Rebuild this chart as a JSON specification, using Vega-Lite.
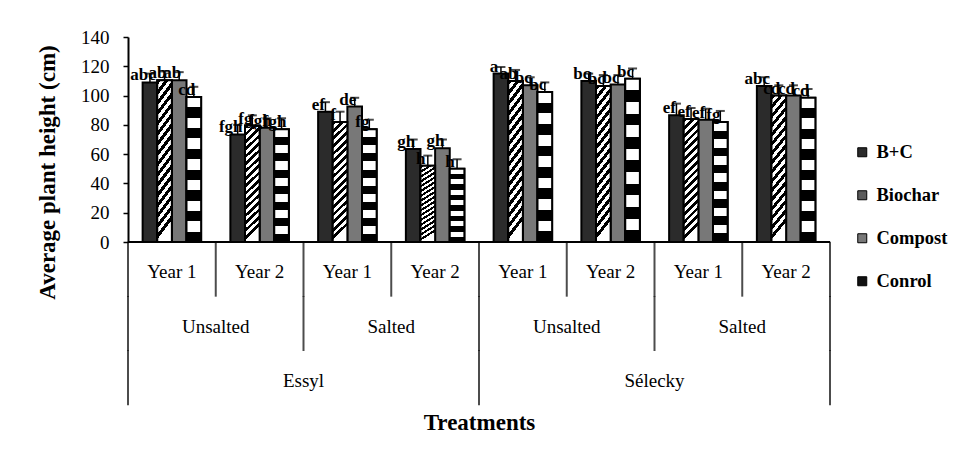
{
  "$schema": "https://vega.github.io/schema/vega-lite/v6.json",
  "width": 702,
  "height": 368,
  "autosize": {"type": "none"},
  "padding": {"left": 128, "top": 37, "right": 133, "bottom": 50},
  "background": "white",
  "config": {
    "view": {"stroke": null},
    "font": "Liberation Serif",
    "text": {"font": "Liberation Serif", "color": "black"}
  },
  "datasets": {
    "heights": [
      {"grp": "Essyl Unsalted Year 1", "treatment": "B+C", "height": 109, "upper": 115, "letter": "abc"},
      {"grp": "Essyl Unsalted Year 1", "treatment": "Biochar", "height": 110.5, "upper": 116.5, "letter": "ab"},
      {"grp": "Essyl Unsalted Year 1", "treatment": "Compost", "height": 110.5, "upper": 116, "letter": "ab"},
      {"grp": "Essyl Unsalted Year 1", "treatment": "Conrol", "height": 99, "upper": 106, "letter": "cd"},
      {"grp": "Essyl Unsalted Year 2", "treatment": "B+C", "height": 73.5, "upper": 80, "letter": "fgh"},
      {"grp": "Essyl Unsalted Year 2", "treatment": "Biochar", "height": 79.5, "upper": 86.5, "letter": "fg"},
      {"grp": "Essyl Unsalted Year 2", "treatment": "Compost", "height": 78, "upper": 84.5, "letter": "fgh"},
      {"grp": "Essyl Unsalted Year 2", "treatment": "Conrol", "height": 77, "upper": 84.5, "letter": "fgh"},
      {"grp": "Essyl Salted Year 1", "treatment": "B+C", "height": 89, "upper": 95.5, "letter": "ef"},
      {"grp": "Essyl Salted Year 1", "treatment": "Biochar", "height": 82, "upper": 89, "letter": "f"},
      {"grp": "Essyl Salted Year 1", "treatment": "Compost", "height": 92.5, "upper": 98.5, "letter": "de"},
      {"grp": "Essyl Salted Year 1", "treatment": "Conrol", "height": 77, "upper": 83.5, "letter": "fg"},
      {"grp": "Essyl Salted Year 2", "treatment": "B+C", "height": 63.5, "upper": 70, "letter": "gh"},
      {"grp": "Essyl Salted Year 2", "treatment": "Biochar", "height": 52, "upper": 59, "letter": "h"},
      {"grp": "Essyl Salted Year 2", "treatment": "Compost", "height": 64, "upper": 70, "letter": "gh"},
      {"grp": "Essyl Salted Year 2", "treatment": "Conrol", "height": 50, "upper": 56.5, "letter": "h"},
      {"grp": "Sélecky Unsalted Year 1", "treatment": "B+C", "height": 115, "upper": 119.5, "letter": "a"},
      {"grp": "Sélecky Unsalted Year 1", "treatment": "Biochar", "height": 110, "upper": 117.5, "letter": "ab"},
      {"grp": "Sélecky Unsalted Year 1", "treatment": "Compost", "height": 107, "upper": 112.5, "letter": "bc"},
      {"grp": "Sélecky Unsalted Year 1", "treatment": "Conrol", "height": 102.5, "upper": 109, "letter": "bc"},
      {"grp": "Sélecky Unsalted Year 2", "treatment": "B+C", "height": 110, "upper": 115, "letter": "bc"},
      {"grp": "Sélecky Unsalted Year 2", "treatment": "Biochar", "height": 106.5, "upper": 114, "letter": "bc"},
      {"grp": "Sélecky Unsalted Year 2", "treatment": "Compost", "height": 107.5, "upper": 114, "letter": "bc"},
      {"grp": "Sélecky Unsalted Year 2", "treatment": "Conrol", "height": 111.5, "upper": 118.5, "letter": "bc"},
      {"grp": "Sélecky Salted Year 1", "treatment": "B+C", "height": 86.5, "upper": 94.5, "letter": "ef"},
      {"grp": "Sélecky Salted Year 1", "treatment": "Biochar", "height": 84, "upper": 91.5, "letter": "ef"},
      {"grp": "Sélecky Salted Year 1", "treatment": "Compost", "height": 83.5, "upper": 91, "letter": "ef"},
      {"grp": "Sélecky Salted Year 1", "treatment": "Conrol", "height": 82, "upper": 89.5, "letter": "fg"},
      {"grp": "Sélecky Salted Year 2", "treatment": "B+C", "height": 106.5, "upper": 112.5, "letter": "abc"},
      {"grp": "Sélecky Salted Year 2", "treatment": "Biochar", "height": 100, "upper": 107, "letter": "cd"},
      {"grp": "Sélecky Salted Year 2", "treatment": "Compost", "height": 100, "upper": 107, "letter": "cd"},
      {"grp": "Sélecky Salted Year 2", "treatment": "Conrol", "height": 98.5, "upper": 104.5, "letter": "cd"}
    ],
    "axislabels": [
      {"grp": "Essyl Unsalted Year 1", "level": "Year", "label": "Year 1"},
      {"grp": "Essyl Unsalted Year 2", "level": "Year", "label": "Year 2"},
      {"grp": "Essyl Salted Year 1", "level": "Year", "label": "Year 1"},
      {"grp": "Essyl Salted Year 2", "level": "Year", "label": "Year 2"},
      {"grp": "Sélecky Unsalted Year 1", "level": "Year", "label": "Year 1"},
      {"grp": "Sélecky Unsalted Year 2", "level": "Year", "label": "Year 2"},
      {"grp": "Sélecky Salted Year 1", "level": "Year", "label": "Year 1"},
      {"grp": "Sélecky Salted Year 2", "level": "Year", "label": "Year 2"},
      {"grp": "Essyl Unsalted Year 1", "level": "Salinity", "label": "Unsalted"},
      {"grp": "Essyl Salted Year 1", "level": "Salinity", "label": "Salted"},
      {"grp": "Sélecky Unsalted Year 1", "level": "Salinity", "label": "Unsalted"},
      {"grp": "Sélecky Salted Year 1", "level": "Salinity", "label": "Salted"},
      {"grp": "Essyl Unsalted Year 2", "level": "Site", "label": "Essyl"},
      {"grp": "Sélecky Unsalted Year 2", "level": "Site", "label": "Sélecky"}
    ],
    "seps": [
      {"grp": "Essyl Unsalted Year 1", "edge": "left", "level": "Year"},
      {"grp": "Essyl Unsalted Year 1", "edge": "left", "level": "Salinity"},
      {"grp": "Essyl Unsalted Year 1", "edge": "left", "level": "Site"},
      {"grp": "Essyl Unsalted Year 2", "edge": "left", "level": "Year"},
      {"grp": "Essyl Salted Year 1", "edge": "left", "level": "Year"},
      {"grp": "Essyl Salted Year 1", "edge": "left", "level": "Salinity"},
      {"grp": "Essyl Salted Year 2", "edge": "left", "level": "Year"},
      {"grp": "Sélecky Unsalted Year 1", "edge": "left", "level": "Year"},
      {"grp": "Sélecky Unsalted Year 1", "edge": "left", "level": "Salinity"},
      {"grp": "Sélecky Unsalted Year 1", "edge": "left", "level": "Site"},
      {"grp": "Sélecky Unsalted Year 2", "edge": "left", "level": "Year"},
      {"grp": "Sélecky Salted Year 1", "edge": "left", "level": "Year"},
      {"grp": "Sélecky Salted Year 1", "edge": "left", "level": "Salinity"},
      {"grp": "Sélecky Salted Year 2", "edge": "left", "level": "Year"},
      {"grp": "Sélecky Salted Year 2", "edge": "right", "level": "Year"},
      {"grp": "Sélecky Salted Year 2", "edge": "right", "level": "Salinity"},
      {"grp": "Sélecky Salted Year 2", "edge": "right", "level": "Site"}
    ]
  },
  "layer": [
    {
      "data": {"name": "heights"},
      "layer": [
        {
          "mark": {"type": "bar", "stroke": "black", "strokeWidth": 2},
          "encoding": {
            "x": {"field": "grp", "type": "nominal",
              "scale": {"domain": ["Essyl Unsalted Year 1", "Essyl Unsalted Year 2", "Essyl Salted Year 1", "Essyl Salted Year 2", "Sélecky Unsalted Year 1", "Sélecky Unsalted Year 2", "Sélecky Salted Year 1", "Sélecky Salted Year 2"], "paddingInner": 0, "paddingOuter": 0},
              "axis": {"title": "Treatments", "domain": false, "labels": false, "ticks": false, "grid": false, "titleFont": "Liberation Serif", "titleFontSize": 23, "titleFontWeight": "bold", "titleColor": "black", "titlePadding": 6}
            },
            "xOffset": {"field": "treatment", "type": "nominal", "scale": {"domain": ["B+C", "Biochar", "Compost", "Conrol"], "paddingInner": 0, "paddingOuter": 1}},
            "y": {"field": "height", "type": "quantitative",
              "scale": {"domain": [0, 140], "range": [205, 0], "nice": false},
              "axis": {"values": [0, 20, 40, 60, 80, 100, 120, 140], "grid": false, "tickSize": 5, "tickWidth": 1.5, "tickColor": "black", "domainColor": "black", "domainWidth": 2, "labelFont": "Liberation Serif", "labelFontSize": 19, "labelColor": "black", "labelPadding": 14,
                "title": "Average plant height (cm)", "titleFont": "Liberation Serif", "titleFontSize": 23, "titleFontWeight": "bold", "titleColor": "black", "titleBaseline": "middle", "titleX": -81, "titleY": 135}
            },
            "color": {"field": "treatment", "type": "nominal",
              "scale": {"domain": ["B+C", "Biochar", "Compost", "Conrol"], "range": ["#2b2b2b", "#5a5a5a", "#787878", "#111111"]},
              "legend": {"orient": "none", "legendX": 725, "legendY": 106, "title": null, "padding": 0, "symbolType": "square", "symbolSize": 81, "symbolStrokeColor": "black", "symbolStrokeWidth": 1, "labelFont": "Liberation Serif", "labelFontSize": 18.5, "labelFontWeight": "bold", "labelColor": "black", "labelOffset": 5, "rowPadding": 24}
            }
          }
        },
        {
          "transform": [{"filter": "datum.treatment === 'Biochar'"}],
          "mark": {"type": "bar", "stroke": "black", "strokeWidth": 2,
            "fill": {"gradient": "linear", "x1": 0, "y1": 0, "x2": 0.12, "y2": 1, "stops": [
              {"offset": 0, "color": "black"}, {"offset": 0.03125, "color": "black"},
              {"offset": 0.03125, "color": "white"}, {"offset": 0.0625, "color": "white"},
              {"offset": 0.0625, "color": "black"}, {"offset": 0.09375, "color": "black"},
              {"offset": 0.09375, "color": "white"}, {"offset": 0.125, "color": "white"},
              {"offset": 0.125, "color": "black"}, {"offset": 0.15625, "color": "black"},
              {"offset": 0.15625, "color": "white"}, {"offset": 0.1875, "color": "white"},
              {"offset": 0.1875, "color": "black"}, {"offset": 0.21875, "color": "black"},
              {"offset": 0.21875, "color": "white"}, {"offset": 0.25, "color": "white"},
              {"offset": 0.25, "color": "black"}, {"offset": 0.28125, "color": "black"},
              {"offset": 0.28125, "color": "white"}, {"offset": 0.3125, "color": "white"},
              {"offset": 0.3125, "color": "black"}, {"offset": 0.34375, "color": "black"},
              {"offset": 0.34375, "color": "white"}, {"offset": 0.375, "color": "white"},
              {"offset": 0.375, "color": "black"}, {"offset": 0.40625, "color": "black"},
              {"offset": 0.40625, "color": "white"}, {"offset": 0.4375, "color": "white"},
              {"offset": 0.4375, "color": "black"}, {"offset": 0.46875, "color": "black"},
              {"offset": 0.46875, "color": "white"}, {"offset": 0.5, "color": "white"},
              {"offset": 0.5, "color": "black"}, {"offset": 0.53125, "color": "black"},
              {"offset": 0.53125, "color": "white"}, {"offset": 0.5625, "color": "white"},
              {"offset": 0.5625, "color": "black"}, {"offset": 0.59375, "color": "black"},
              {"offset": 0.59375, "color": "white"}, {"offset": 0.625, "color": "white"},
              {"offset": 0.625, "color": "black"}, {"offset": 0.65625, "color": "black"},
              {"offset": 0.65625, "color": "white"}, {"offset": 0.6875, "color": "white"},
              {"offset": 0.6875, "color": "black"}, {"offset": 0.71875, "color": "black"},
              {"offset": 0.71875, "color": "white"}, {"offset": 0.75, "color": "white"},
              {"offset": 0.75, "color": "black"}, {"offset": 0.78125, "color": "black"},
              {"offset": 0.78125, "color": "white"}, {"offset": 0.8125, "color": "white"},
              {"offset": 0.8125, "color": "black"}, {"offset": 0.84375, "color": "black"},
              {"offset": 0.84375, "color": "white"}, {"offset": 0.875, "color": "white"},
              {"offset": 0.875, "color": "black"}, {"offset": 0.90625, "color": "black"},
              {"offset": 0.90625, "color": "white"}, {"offset": 0.9375, "color": "white"},
              {"offset": 0.9375, "color": "black"}, {"offset": 0.96875, "color": "black"},
              {"offset": 0.96875, "color": "white"}, {"offset": 1, "color": "white"}
            ]}},
          "encoding": {
            "x": {"field": "grp", "type": "nominal"},
            "xOffset": {"field": "treatment", "type": "nominal"},
            "y": {"field": "height", "type": "quantitative"}
          }
        },
        {
          "transform": [{"filter": "datum.treatment === 'Conrol'"}],
          "mark": {"type": "bar", "stroke": "black", "strokeWidth": 2,
            "fill": {"gradient": "linear", "x1": 0, "y1": 0, "x2": 0, "y2": 1, "stops": [
              {"offset": 0, "color": "white"}, {"offset": 0.0714, "color": "white"},
              {"offset": 0.0714, "color": "black"}, {"offset": 0.1429, "color": "black"},
              {"offset": 0.1429, "color": "white"}, {"offset": 0.2143, "color": "white"},
              {"offset": 0.2143, "color": "black"}, {"offset": 0.2857, "color": "black"},
              {"offset": 0.2857, "color": "white"}, {"offset": 0.3571, "color": "white"},
              {"offset": 0.3571, "color": "black"}, {"offset": 0.4286, "color": "black"},
              {"offset": 0.4286, "color": "white"}, {"offset": 0.5, "color": "white"},
              {"offset": 0.5, "color": "black"}, {"offset": 0.5714, "color": "black"},
              {"offset": 0.5714, "color": "white"}, {"offset": 0.6429, "color": "white"},
              {"offset": 0.6429, "color": "black"}, {"offset": 0.7143, "color": "black"},
              {"offset": 0.7143, "color": "white"}, {"offset": 0.7857, "color": "white"},
              {"offset": 0.7857, "color": "black"}, {"offset": 0.8571, "color": "black"},
              {"offset": 0.8571, "color": "white"}, {"offset": 0.9286, "color": "white"},
              {"offset": 0.9286, "color": "black"}, {"offset": 1, "color": "black"}
            ]}},
          "encoding": {
            "x": {"field": "grp", "type": "nominal"},
            "xOffset": {"field": "treatment", "type": "nominal"},
            "y": {"field": "height", "type": "quantitative"}
          }
        },
        {
          "mark": {"type": "rule", "color": "black", "strokeWidth": 1.5},
          "encoding": {
            "x": {"field": "grp", "type": "nominal"},
            "xOffset": {"field": "treatment", "type": "nominal"},
            "y": {"field": "height", "type": "quantitative"},
            "y2": {"field": "upper"}
          }
        },
        {
          "mark": {"type": "tick", "orient": "horizontal", "color": "black", "size": 9, "thickness": 2},
          "encoding": {
            "x": {"field": "grp", "type": "nominal"},
            "xOffset": {"field": "treatment", "type": "nominal"},
            "y": {"field": "upper", "type": "quantitative"}
          }
        },
        {
          "mark": {"type": "text", "font": "Liberation Serif", "fontSize": 17, "fontWeight": "bold", "align": "center", "baseline": "alphabetic", "dx": -7, "dy": -2, "color": "black"},
          "encoding": {
            "x": {"field": "grp", "type": "nominal"},
            "xOffset": {"field": "treatment", "type": "nominal"},
            "y": {"field": "height", "type": "quantitative"},
            "text": {"field": "letter"}
          }
        },
        {
          "mark": {"type": "rule", "color": "black", "strokeWidth": 2},
          "encoding": {
            "y": {"datum": 0, "type": "quantitative"}
          }
        }
      ]
    },
    {
      "layer": [
        {
          "data": {"name": "axislabels"},
          "transform": [{"filter": "datum.level === 'Year'"}],
          "mark": {"type": "text", "font": "Liberation Serif", "fontSize": 19, "baseline": "middle", "dy": 3, "color": "black"},
          "encoding": {
            "x": {"field": "grp", "type": "nominal", "bandPosition": 0.5,
              "axis": {"title": "Treatments", "domain": false, "labels": false, "ticks": false, "grid": false, "titleFont": "Liberation Serif", "titleFontSize": 23, "titleFontWeight": "bold", "titleColor": "black", "titlePadding": 6}},
            "y": {"field": "level", "type": "ordinal", "scale": {"domain": ["Year", "Salinity", "Site"], "range": [205, 368], "paddingInner": 0, "paddingOuter": 0}, "axis": null},
            "text": {"field": "label"}
          }
        },
        {
          "data": {"name": "axislabels"},
          "transform": [{"filter": "datum.level !== 'Year'"}],
          "mark": {"type": "text", "font": "Liberation Serif", "fontSize": 19, "baseline": "middle", "dy": 3, "color": "black"},
          "encoding": {
            "x": {"field": "grp", "type": "nominal", "bandPosition": 1,
              "axis": {"title": "Treatments", "domain": false, "labels": false, "ticks": false, "grid": false, "titleFont": "Liberation Serif", "titleFontSize": 23, "titleFontWeight": "bold", "titleColor": "black", "titlePadding": 6}},
            "y": {"field": "level", "type": "ordinal", "axis": null},
            "text": {"field": "label"}
          }
        },
        {
          "data": {"name": "seps"},
          "transform": [{"filter": "datum.edge === 'left'"}],
          "mark": {"type": "tick", "orient": "vertical", "color": "black", "size": 55, "thickness": 2},
          "encoding": {
            "x": {"field": "grp", "type": "nominal", "bandPosition": 0,
              "axis": {"title": "Treatments", "domain": false, "labels": false, "ticks": false, "grid": false, "titleFont": "Liberation Serif", "titleFontSize": 23, "titleFontWeight": "bold", "titleColor": "black", "titlePadding": 6}},
            "y": {"field": "level", "type": "ordinal", "axis": null}
          }
        },
        {
          "data": {"name": "seps"},
          "transform": [{"filter": "datum.edge === 'right'"}],
          "mark": {"type": "tick", "orient": "vertical", "color": "black", "size": 55, "thickness": 2},
          "encoding": {
            "x": {"field": "grp", "type": "nominal", "bandPosition": 1,
              "axis": {"title": "Treatments", "domain": false, "labels": false, "ticks": false, "grid": false, "titleFont": "Liberation Serif", "titleFontSize": 23, "titleFontWeight": "bold", "titleColor": "black", "titlePadding": 6}},
            "y": {"field": "level", "type": "ordinal", "axis": null}
          }
        }
      ]
    }
  ],
  "resolve": {"scale": {"y": "independent"}}
}
